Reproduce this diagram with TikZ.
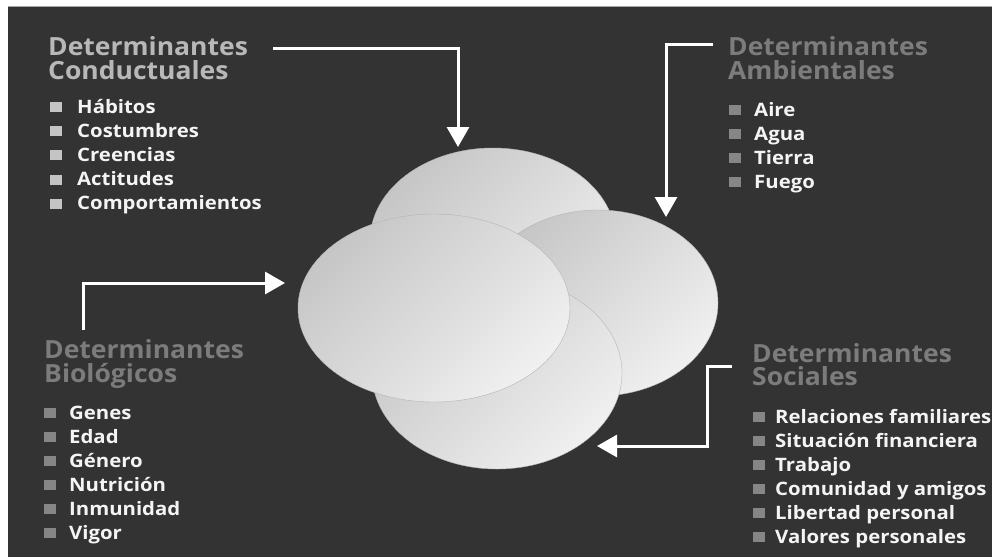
\documentclass[tikz,border=0pt]{standalone}
\usepackage{fontspec}
\setmainfont{Open Sans}
\newfontfamily\itemfont[FakeStretch=1.1]{Open Sans}
\newfontfamily\titlefont[FakeStretch=1.06]{Open Sans}
\usetikzlibrary{arrows.meta,shapes.geometric}
\definecolor{bgdark}{HTML}{333333}
\definecolor{itemwhite}{HTML}{F4F4F4}
\definecolor{titlelight}{HTML}{B8B8B8}
\definecolor{titledark}{HTML}{7C7C7C}
\definecolor{bulletlight}{HTML}{C4C4C4}
\definecolor{bulletdark}{HTML}{868686}
\definecolor{blobdark}{HTML}{C6C6C6}
\definecolor{bloblight}{HTML}{F0F0F0}
\definecolor{blobedge}{HTML}{B4B4B4}
\begin{document}
\begin{tikzpicture}[x=1pt,y=-1pt,
  title/.style={anchor=base west, inner sep=0pt, font=\titlefont\fontsize{25}{24}\selectfont\bfseries},
  item/.style={anchor=base west, inner sep=0pt, text=itemwhite, font=\itemfont\fontsize{18.5}{20}\selectfont\bfseries},
  conn/.style={draw=white, line width=3pt, -{Triangle[width=22pt,length=20pt]}},
  blob/.style={ellipse, inner sep=0pt, draw=blobedge, line width=0.4pt, top color=blobdark, bottom color=bloblight, shading angle=45}]
\useasboundingbox (0,0) rectangle (992,557);
\fill[white] (0,0) rectangle (992,557);
\fill[bgdark] (8,7) rectangle (992,557);
\draw[gray!70, line width=0.8pt] (8,6.6) -- (992,6.6);

% ellipses
\node[blob, minimum width=246pt, minimum height=186pt] (etop) at (493,241) {};
\node[blob, minimum width=240pt, minimum height=186pt] (eright) at (598,303) {};
\node[blob, minimum width=250pt, minimum height=192pt] (ebottom) at (497,373) {};
\node[blob, minimum width=272pt, minimum height=188pt] (eleft) at (434,308) {};

% Conductuales
\node[title, text=titlelight] (tc1) at (48,55) {Determinantes};
\node[title, text=titlelight] (tc2) at (48,79) {Conductuales};
\foreach \t [count=\i from 0] in {Hábitos,Costumbres,Creencias,Actitudes,Comportamientos}{
  \fill[bulletlight] (50,113+24.2*\i-11) rectangle (62,113+24.2*\i-1);
  \node[item] (ic\i) at (77,113+24.2*\i) {\t};
}
% Ambientales
\node[title, text=titledark] (ta1) at (728,55) {Determinantes};
\node[title, text=titledark] (ta2) at (728,79) {Ambientales};
\foreach \t [count=\i from 0] in {Aire,Agua,Tierra,Fuego}{
  \fill[bulletdark] (729,116+24*\i-11) rectangle (741,116+24*\i-1);
  \node[item] (ia\i) at (754,116+24*\i) {\t};
}
% Biologicos
\node[title, text=titledark] (tb1) at (44,358) {Determinantes};
\node[title, text=titledark] (tb2) at (44,382) {Biológicos};
\foreach \t [count=\i from 0] in {Genes,Edad,Género,Nutrición,Inmunidad,Vigor}{
  \fill[bulletdark] (44,419+24*\i-11) rectangle (56,419+24*\i-1);
  \node[item] (ib\i) at (69,419+24*\i) {\t};
}
% Sociales
\node[title, text=titledark] (ts1) at (752,362) {Determinantes};
\node[title, text=titledark] (ts2) at (752,385) {Sociales};
\foreach \t [count=\i from 0] in {Relaciones familiares,Situación financiera,Trabajo,Comunidad y amigos,Libertad personal,Valores personales}{
  \fill[bulletdark] (753,423+24*\i-11) rectangle (765,423+24*\i-1);
  \node[item] (is\i) at (775,423+24*\i) {\t};
}

% connectors
\coordinate (sc) at (273,48);
\coordinate (tipc) at (458,147);
\draw[conn] (sc) -| (tipc);
\coordinate (sa) at (713,44);
\coordinate (tipa) at (666,217);
\draw[conn] (sa) -| (tipa);
\coordinate (sb) at (83,330);
\coordinate (tipb) at (285,283);
\draw[conn] (sb) |- (tipb);
\coordinate (ss) at (732,366);
\coordinate (ms) at (707,446);
\coordinate (tips) at (597,446);
\draw[conn] (ss) -| (ms) -- (tips);
\end{tikzpicture}
\end{document}
